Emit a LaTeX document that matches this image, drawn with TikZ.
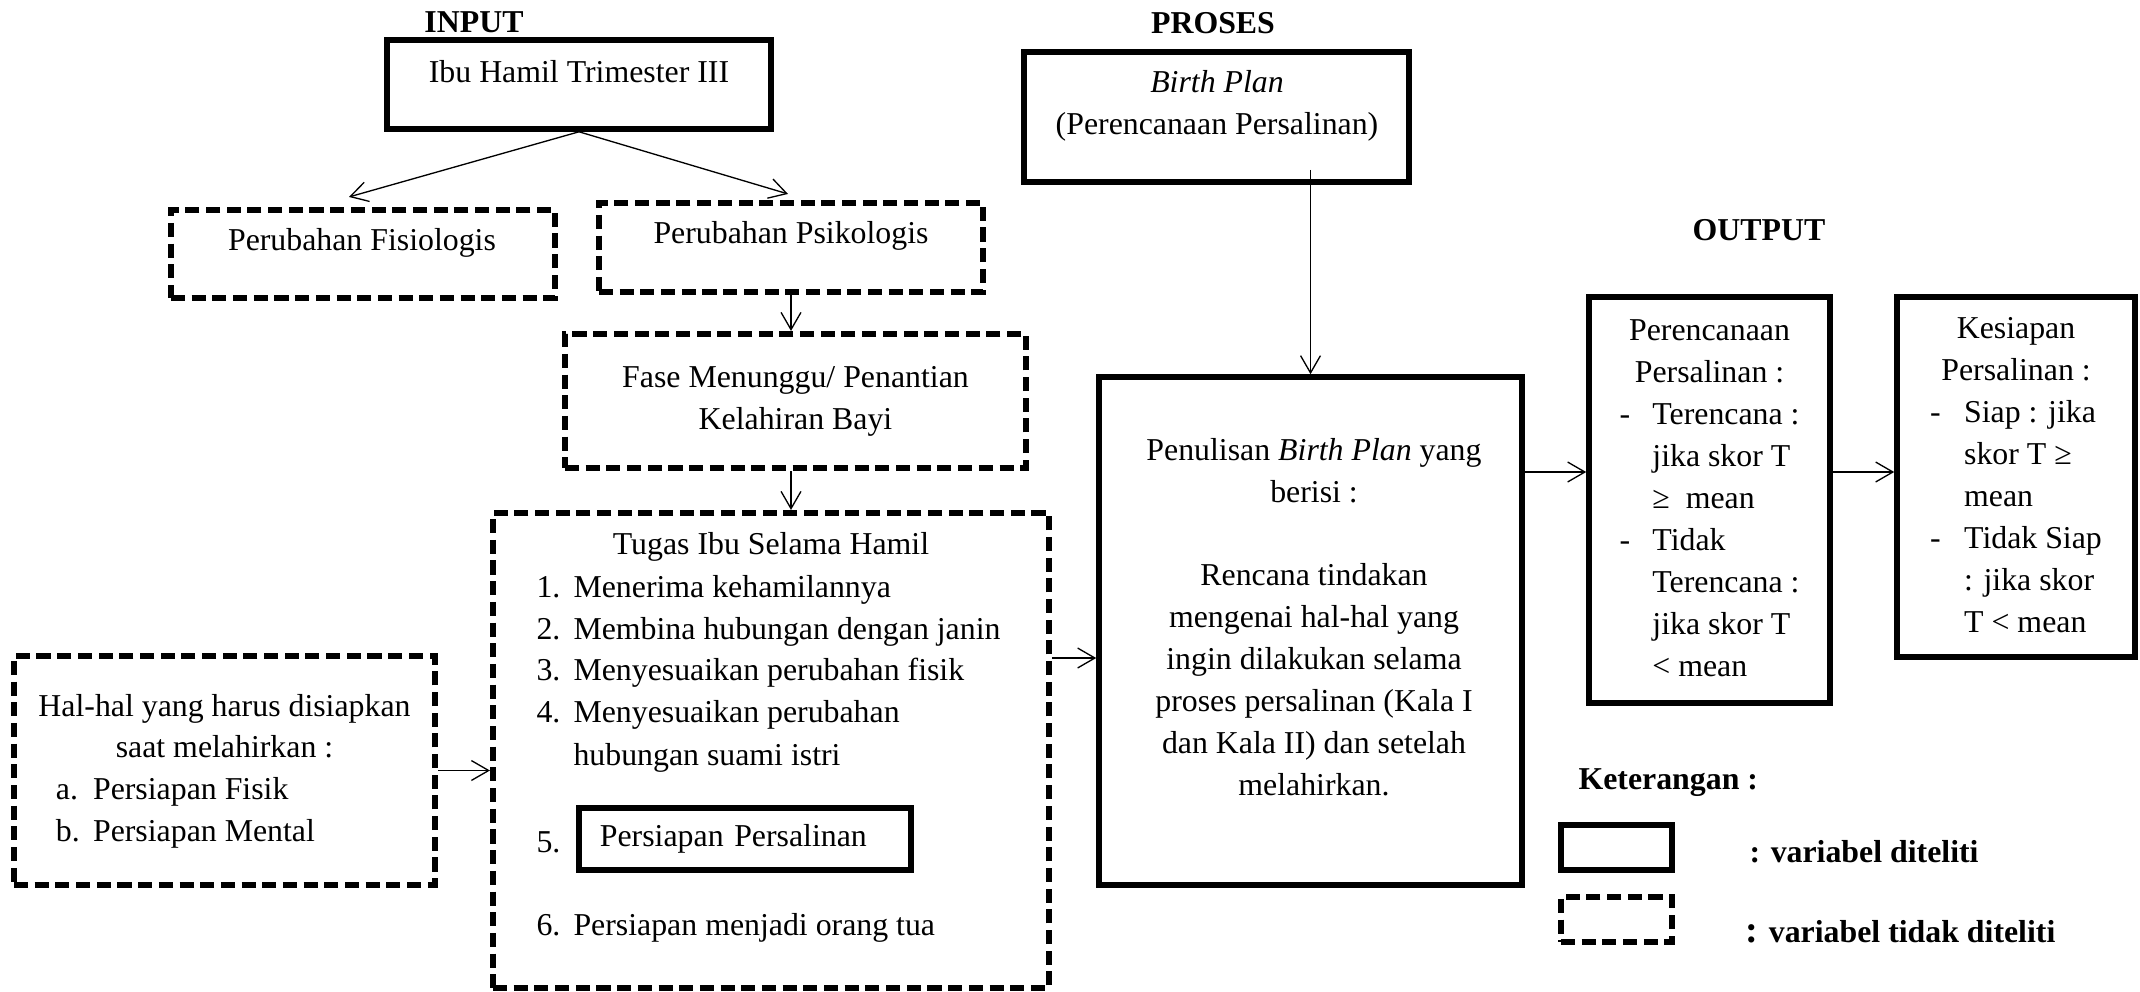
\documentclass[tikz,border=0pt]{standalone}
\usepackage{fontspec}
\setmainfont{Liberation Serif}
\usetikzlibrary{arrows.meta}
\newcommand{\pxsz}{0.377pt}
\newcommand{\diagfont}{\fontsize{12}{15.8}\selectfont}
\tikzset{
  solidbox/.style={draw, line width=2.1pt},
  dashbox/.style={draw, line width=2.3pt, dash pattern=on 5.3pt off 2.5pt},
  boxsize/.style 2 args={minimum width=#1*\pxsz, minimum height=#2*\pxsz, inner sep=0pt},
  conn/.style={line width=0.5pt, -{Straight Barb[length=6.5pt,width=7.5pt,line width=0.5pt]}},
  heading/.style={font=\diagfont\bfseries, inner sep=0pt},
  txt/.style={align=center, inner sep=0pt}
}
\begin{document}
\begin{tikzpicture}[x=0.377pt, y=-0.377pt, font=\diagfont]
\useasboundingbox (0,0) rectangle (2140,991);
% headings
\node[heading] (inputlbl) at (474,22) {INPUT};
\node[heading] (proseslbl) at (1213,23) {PROSES};
\node[heading] (outputlbl) at (1759,230) {OUTPUT};
% input
\node[solidbox, boxsize={384}{89}] (ibu) at (579,84.5) {};
\node[txt] (ibutxt) at (579,72) {Ibu Hamil Trimester III};
\node[dashbox, boxsize={384}{88}] (fis) at (363,254) {};
\node[txt] (fistxt) at (362,243) {Perubahan Fisiologis};
\node[dashbox, boxsize={384}{89}] (psi) at (791,247.5) {};
\node[txt] (psitxt) at (791,236) {Perubahan Psikologis};
\node[dashbox, boxsize={461}{134}, txt] (fase) at (795.5,401) {Fase Menunggu/ Penantian\\ Kelahiran Bayi};
% tugas ibu
\node[dashbox, boxsize={556}{475}] (tugas) at (771,750.5) {};
\node[txt] (tugastitle) at (771,547) {Tugas Ibu Selama Hamil};
\foreach \yy/\num/\lbl [count=\i] in {597/1./Menerima kehamilannya, 639/2./Membina hubungan dengan janin,
    680/3./Menyesuaikan perubahan fisik, 722/4./Menyesuaikan perubahan, 765//hubungan suami istri,
    935/6./Persiapan menjadi orang tua} {
  \node[anchor=base west, inner sep=0pt] (tnum\i) at (536,\yy) {\num};
  \node[anchor=base west, inner sep=0pt] (titem\i) at (573,\yy) {\lbl};
}
\node[anchor=base west, inner sep=0pt] (tnum5) at (536,852) {5.};
\node[solidbox, boxsize={332}{62}, inner xsep=7.9pt, text width=109.4pt, align=left] (siap) at (745,839) {\mbox{Persiapan Persalinan}};
\node[dashbox, boxsize={421}{229}] (hal) at (224.5,770.5) {%
  \begin{tabular}{@{\hspace{6.6pt}}p{14pt}@{}l@{}}
  \multicolumn{2}{@{}c@{}}{Hal-hal yang harus disiapkan}\\
  \multicolumn{2}{@{}c@{}}{saat melahirkan :}\\
  a. & Persiapan Fisik\\
  b. & Persiapan Mental
  \end{tabular}};
% proses
\node[solidbox, boxsize={385}{130}] (bp) at (1216.5,117) {};
\node[txt] (bptxt) at (1217,106) {\textit{Birth Plan}\\ (Perencanaan Persalinan)};
\node[solidbox, boxsize={423}{508}] (pen) at (1310.5,631) {};
\node[txt] (pentxt) at (1314,617) {Penulisan \textit{Birth Plan} yang\\ berisi :\\[15.8pt] Rencana tindakan\\ mengenai hal-hal yang\\ ingin dilakukan selama\\ proses persalinan (Kala I\\ dan Kala II) dan setelah\\ melahirkan.};
% output
\node[solidbox, boxsize={241}{406}] (per) at (1709.5,500) {%
  \begin{tabular}{@{}p{12.4pt}@{}l@{}}
  \multicolumn{2}{@{}c@{}}{Perencanaan}\\
  \multicolumn{2}{@{}c@{}}{Persalinan :}\\
  - & Terencana :\\
    & jika skor T\\
    & ≥\ \ mean\\
  - & Tidak\\
    & Terencana :\\
    & jika skor T\\
    & < mean
  \end{tabular}};
\node[solidbox, boxsize={238}{360}] (kes) at (2016,477) {%
  \begin{tabular}{@{}p{12.8pt}@{}l@{}}
  \multicolumn{2}{@{}c@{}}{Kesiapan}\\
  \multicolumn{2}{@{}c@{}}{Persalinan :}\\
  - & Siap : jika\\
    & skor T ≥\\
    & mean\\
  - & Tidak Siap\\
    & : jika skor\\
    & T < mean
  \end{tabular}};
% connectors
\draw[conn] (ibu.south) -- ([shift={(-14,-10)}]fis.north);
\draw[conn] (ibu.south) -- ([shift={(-3,-6)}]psi.north);
\draw[conn] (psi.south) -- (psi.south |- fase.north);
\draw[conn] (psi.south |- fase.south) -- (psi.south |- tugas.north);
\draw[conn] (hal.east) -- (hal.east -| tugas.west);
\coordinate (penin) at ([shift={(0,27)}]pen.west);
\draw[conn] (penin -| tugas.east) -- (penin);
\coordinate (bpout) at ([shift={(0,-15)}]bp.south);
\draw[conn] (bpout -| pen.north) -- (pen.north);
\coordinate (perin) at ([shift={(0,-28)}]per.west);
\draw[conn] (perin -| pen.east) -- (perin);
\draw[conn] (perin -| per.east) -- (perin -| kes.west);
% keterangan
\node[heading, anchor=west] (ket) at (1578,783) {Keterangan :};
\node[solidbox, boxsize={111}{45}] (legsolid) at (1616.5,847.5) {};
\node[heading, anchor=west] (legsolidtxt) at (1749,852) {: variabel diteliti};
\node[dashbox, boxsize={111}{45}] (legdash) at (1616.5,919.5) {};
\node[heading, anchor=west] (legdashtxt) at (1745,932) {{\Large :} variabel tidak diteliti};
\end{tikzpicture}
\end{document}
